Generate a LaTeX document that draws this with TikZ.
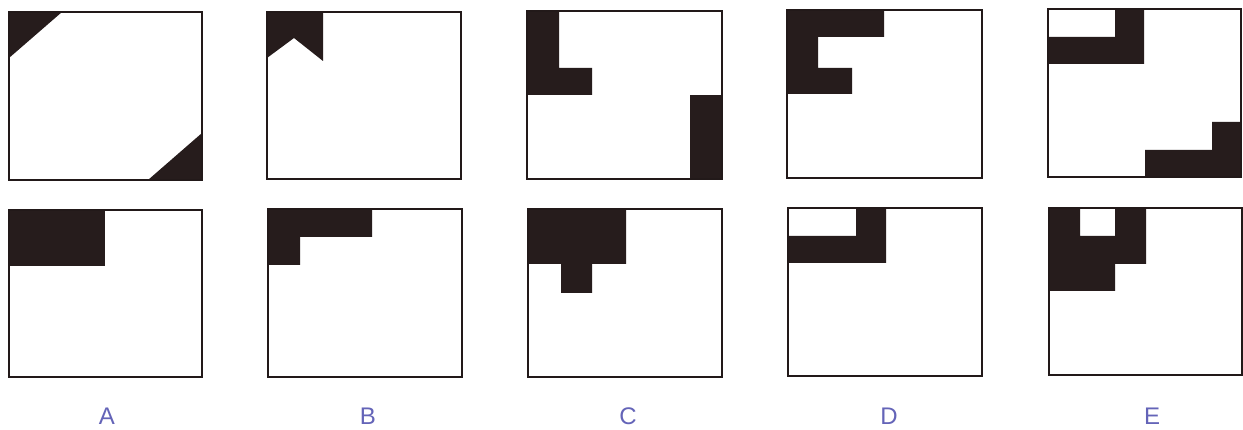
\documentclass[tikz,border=0pt]{standalone}
\usepackage{fontspec}
\setmainfont{Liberation Sans}
\definecolor{ink}{HTML}{261C1C}
\definecolor{lbl}{HTML}{6464B8}
\tikzset{
  panel/.style={draw=ink!90!black, line width=1.6pt, fill=white},
  blob/.style={fill=ink, draw=none},
  lettr/.style={text=lbl, font=\fontsize{24}{24}\selectfont, inner sep=0pt, anchor=center}
}
\begin{document}
\begin{tikzpicture}[x=1pt, y=-1pt]
\useasboundingbox (0,0) rectangle (1243,430);
\fill[white] (0,0) rectangle (1243,430);
% ---- top row ----
% A
\draw[panel] (9,12) rectangle (202,180);
\fill[blob] (9,12) -- (62,12) -- (9,58) -- cycle;
\fill[blob] (202,180) -- (148,180) -- (202,133) -- cycle;
% B
\draw[panel] (267,12) rectangle (461,179);
\fill[blob] (267,12) -- (323,12) -- (323,61) -- (294,38) -- (267,58) -- cycle;
% C
\draw[panel] (527,11) rectangle (722,179);
\fill[blob] (527,11) -- (559,11) -- (559,68) -- (592,68) -- (592,95) -- (527,95) -- cycle;
\fill[blob] (690,95) rectangle (722,179);
% D
\draw[panel] (787,10) rectangle (982,178);
\fill[blob] (787,10) -- (884,10) -- (884,37) -- (818,37) -- (818,68) -- (852,68) -- (852,94) -- (787,94) -- cycle;
% E
\draw[panel] (1048,9) rectangle (1241,177);
\fill[blob] (1115,9) -- (1144,9) -- (1144,64) -- (1048,64) -- (1048,37) -- (1115,37) -- cycle;
\fill[blob] (1212,122) -- (1241,122) -- (1241,177) -- (1145,177) -- (1145,150) -- (1212,150) -- cycle;
% ---- bottom row ----
% A
\draw[panel] (9,210) rectangle (202,377);
\fill[blob] (9,210) rectangle (105,266);
% B
\draw[panel] (268,209) rectangle (462,377);
\fill[blob] (268,209) -- (372,209) -- (372,237) -- (300,237) -- (300,265) -- (268,265) -- cycle;
% C
\draw[panel] (528,209) rectangle (722,377);
\fill[blob] (528,209) -- (626,209) -- (626,264) -- (592,264) -- (592,293) -- (561,293) -- (561,264) -- (528,264) -- cycle;
% D
\draw[panel] (788,208) rectangle (982,376);
\fill[blob] (856,208) -- (886,208) -- (886,263) -- (788,263) -- (788,236) -- (856,236) -- cycle;
% E
\draw[panel] (1049,208) rectangle (1242,375);
\fill[blob] (1049,208) -- (1080,208) -- (1080,236) -- (1115,236) -- (1115,208) -- (1146,208) -- (1146,264) -- (1115,264) -- (1115,291) -- (1049,291) -- cycle;
% redraw borders over fills
\foreach \a/\b/\c/\d in {9/12/202/180, 267/12/461/179, 527/11/722/179, 787/10/982/178, 1048/9/1241/177,
  9/210/202/377, 268/209/462/377, 528/209/722/377, 788/208/982/376, 1049/208/1242/375}
  \draw[draw=ink!90!black, line width=1.6pt] (\a,\b) rectangle (\c,\d);
% ---- labels ----
\node[lettr] (la) at (107,416) {A};
\node[lettr] (lb) at (368,416) {B};
\node[lettr] (lc) at (628,416) {C};
\node[lettr] (ld) at (889,416) {D};
\node[lettr] (le) at (1152,416) {E};
\end{tikzpicture}
\end{document}
